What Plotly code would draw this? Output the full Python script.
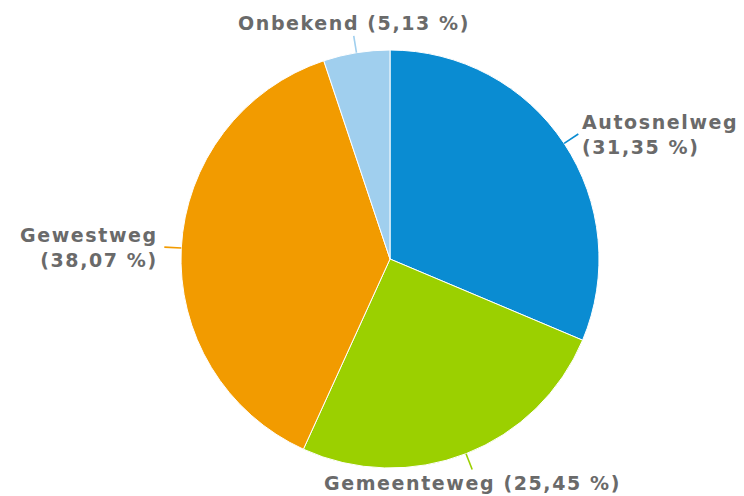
import math
import plotly.graph_objects as go

labels = ["Autosnelweg", "Gemeenteweg", "Gewestweg", "Onbekend"]
values = [31.35, 25.45, 38.07, 5.13]
colors = ["#0a8cd2", "#9bd000", "#f29b00", "#a0cfee"]
label_texts = ["Autosnelweg<br>(31,35 %)", "Gemeenteweg (25,45 %)",
               "Gewestweg<br>(38,07 %)", "Onbekend (5,13 %)"]

W, H = 744, 496
cx, cy, r = 390, 259, 209
lead = 17

fig = go.Figure(go.Pie(
    labels=labels, values=values, sort=False, direction="clockwise", rotation=0,
    marker=dict(colors=colors, line=dict(color="#ffffff", width=1)),
    textinfo="none", hoverinfo="label+percent", showlegend=False,
    domain=dict(x=[(cx - r) / W, (cx + r) / W], y=[1 - (cy + r) / H, 1 - (cy - r) / H]),
))

sp = "<span style='letter-spacing:1.6px'>"
total = sum(values)
cum = 0
for lab, val, col, txt in zip(labels, values, colors, label_texts):
    mid = (cum + val / 2) / total * 2 * math.pi
    cum += val
    sx, sy = math.sin(mid), -math.cos(mid)
    x0, y0 = cx + r * sx, cy + r * sy
    x1, y1 = cx + (r + lead) * sx, cy + (r + lead) * sy
    fig.add_shape(type="line", xref="paper", yref="paper",
                  x0=x0 / W, y0=1 - y0 / H, x1=x1 / W, y1=1 - y1 / H,
                  line=dict(color=col, width=1.6))
    deg = math.degrees(mid) % 360
    if 30 < deg < 150:
        xa, ya, al, tx, ty = "left", "middle", "left", x1 + 2, y1
    elif 210 < deg < 330:
        xa, ya, al, tx, ty = "right", "middle", "right", x1 - 4, y1
    elif 150 <= deg <= 210:
        xa, ya, al, tx, ty = "center", "top", "center", x1, y1
    else:
        xa, ya, al, tx, ty = "center", "bottom", "center", x1, y1
    fig.add_annotation(
        x=tx / W, y=1 - ty / H, xref="paper", yref="paper", showarrow=False,
        xanchor=xa, yanchor=ya, align=al,
        text=sp + txt.replace("<br>", "</span><br>" + sp) + "</span>",
        font=dict(family="DejaVu Sans", size=19, color="#6a6a6a", weight="bold"),
    )

fig.update_layout(width=W, height=H, margin=dict(l=0, r=0, t=0, b=0),
                  paper_bgcolor="#ffffff", plot_bgcolor="#ffffff")
fig.write_html("out.html")
